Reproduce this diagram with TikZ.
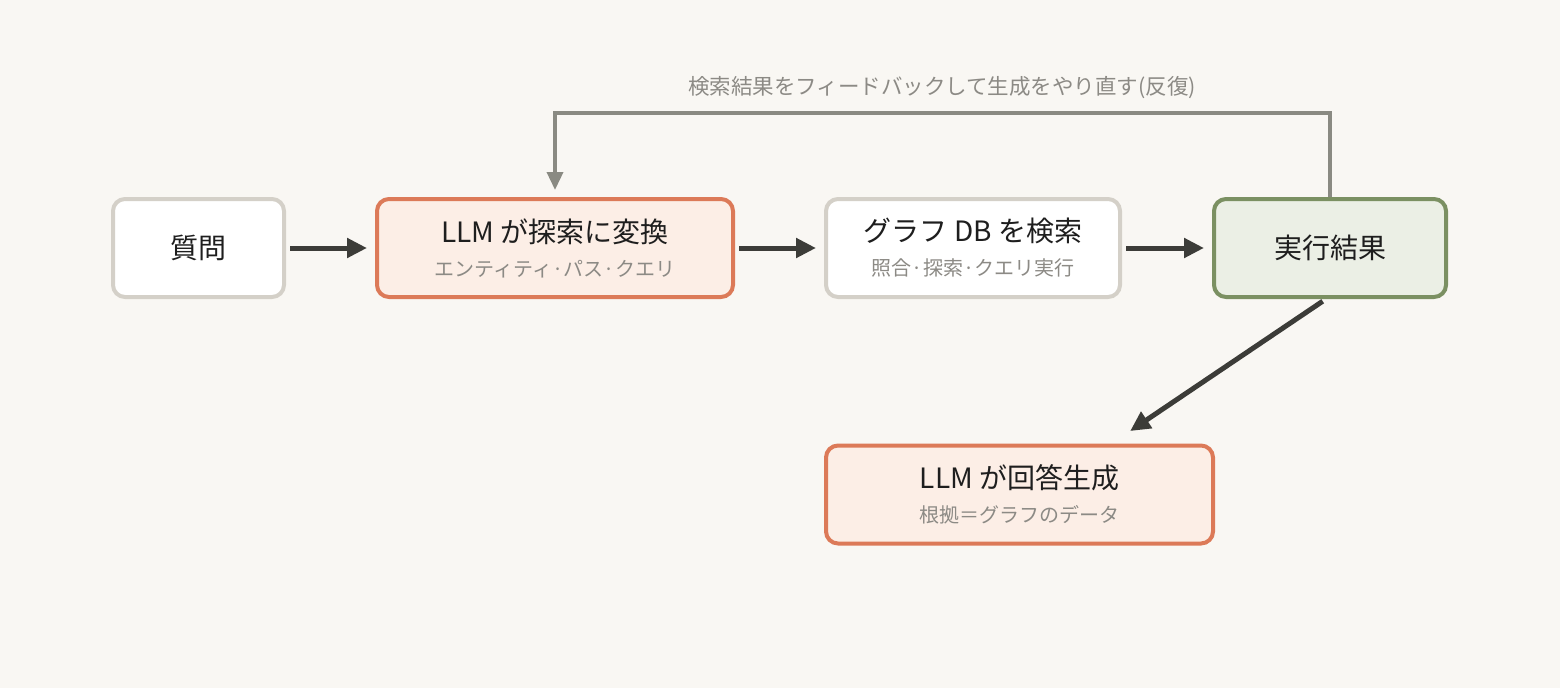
\documentclass[tikz,border=0pt]{standalone}
\usepackage{fontspec}
\setmainfont{Noto Sans CJK JP}
\usetikzlibrary{arrows.meta}

\definecolor{bgcolor}{HTML}{F9F7F3}
\definecolor{plainline}{HTML}{D4D0C8}
\definecolor{llmline}{HTML}{DC7A58}
\definecolor{llmfill}{HTML}{FCEEE6}
\definecolor{resline}{HTML}{7B9062}
\definecolor{resfill}{HTML}{EBEFE5}
\definecolor{arrowcol}{HTML}{3C3C38}
\definecolor{loopcol}{HTML}{8A8A82}
\definecolor{maintext}{HTML}{1E1E1E}
\definecolor{subtext}{HTML}{8C8A85}

\newcommand{\subline}[1]{{\fontsize{20}{34}\selectfont\color{subtext}#1}}

\tikzset{
  box/.style={draw, line width=4pt, rounded corners=12pt, align=center,
    minimum height=98pt, inner sep=0pt, text=maintext,
    font=\fontsize{28}{34}\selectfont},
  plainbox/.style={box, draw=plainline, fill=white},
  llmbox/.style={box, draw=llmline, fill=llmfill},
  resultbox/.style={box, draw=resline, fill=resfill},
  flow/.style={-{Triangle[length=20pt,width=19pt]}, line width=5pt, arrowcol,
    shorten <=4pt, shorten >=8pt},
  feedback/.style={-{Triangle[length=18pt,width=16pt]}, line width=3.5pt, loopcol}
}

\begin{document}
\begin{tikzpicture}[x=1pt, y=-1pt]
    % Background
    \fill[bgcolor] (0,0) rectangle (1560,688);
    \useasboundingbox (0,0) rectangle (1560,688);

    % Boxes
    \node[plainbox, minimum width=171pt] (question) at (198.5,248) {質問};
    \node[llmbox, minimum width=356pt] (toquery) at (555,248)
        {LLM が探索に変換\\\subline{エンティティ·パス·クエリ}};
    \node[plainbox, minimum width=294pt] (graphdb) at (973,248)
        {グラフ DB を検索\\\subline{照合·探索·クエリ実行}};
    \node[resultbox, minimum width=232pt] (result) at (1330,248) {実行結果};
    \node[llmbox, minimum width=387pt] (answer) at (1019.5,494.5)
        {LLM が回答生成\\\subline{根拠＝グラフのデータ}};

    % Main flow
    \draw[flow] (question) -- (toquery);
    \draw[flow] (toquery) -- (graphdb);
    \draw[flow] (graphdb) -- (result);
    \draw[flow] ([xshift=-4pt]result.south) -- ([xshift=104pt,yshift=8pt]answer.north);

    % Feedback loop
    \coordinate (loopcorner) at (1330,113);
    \draw[feedback, shorten >=7pt] (result.north) -- (loopcorner) -| (toquery.north);
    \node[text=subtext, font=\fontsize{21.5}{24}\selectfont] (looplabel) at (942,88)
        {検索結果をフィードバックして生成をやり直す(反復)};
\end{tikzpicture}
\end{document}
